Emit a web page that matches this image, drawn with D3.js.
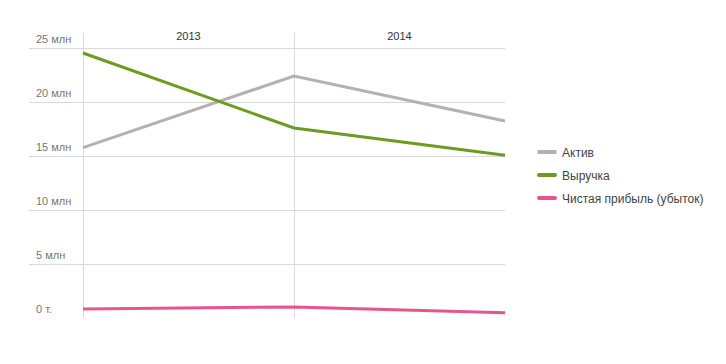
<!DOCTYPE html>
<html>
<head>
<meta charset="utf-8">
<script src="https://cdn.jsdelivr.net/npm/d3@7"></script>
<style>
  body { margin: 0; background: #fff; font-family: "Liberation Sans", Arial, sans-serif; }
  svg { display: block; }
</style>
</head>
<body>
<svg id="chart" width="726" height="364"></svg>
<script>
// Data
const periods = ["2013", "2014"];
const dates = [0, 1, 2]; // start of 2013, end of 2013, end of 2014
const seriesNames = ["Актив", "Выручка", "Чистая прибыль (убыток)"];
const aktiv = [15.77e6, 22.41e6, 18.24e6];
const vyruchka = [24.54e6, 17.59e6, 15.06e6];
const pribyl = [0.83e6, 1.02e6, 0.49e6];
const yTicks = [0, 5e6, 10e6, 15e6, 20e6, 25e6];
const colours = ["#b5b0b2", "#6b9b20", "#e8558c"];

const svg = d3.select("#chart");

const x = d3.scaleLinear().domain([0, 2]).range([83, 505]);
const y = d3.scaleLinear().domain([0, 25e6]).range([318, 48]);

function tickLabel(v) {
    return v === 0 ? "0 т." : (v / 1e6) + " млн";
}

// Horizontal grid lines (no line at zero)
svg.append("g")
    .selectAll("line")
    .data(yTicks.filter(d => d > 0))
    .enter()
    .append("line")
    .attr("x1", 29)
    .attr("x2", x(2))
    .attr("y1", d => Math.round(y(d)) + 0.5)
    .attr("y2", d => Math.round(y(d)) + 0.5)
    .attr("stroke", "#d9d9d9")
    .attr("stroke-width", 1);

// Vertical lines at period boundaries
svg.append("g")
    .selectAll("line")
    .data(dates.slice(0, 2))
    .enter()
    .append("line")
    .attr("x1", d => Math.round(x(d)) + 0.5)
    .attr("x2", d => Math.round(x(d)) + 0.5)
    .attr("y1", 33)
    .attr("y2", 318)
    .attr("stroke", "#d9d9d9")
    .attr("stroke-width", 1);

// Y tick labels
svg.append("g")
    .selectAll("text")
    .data(yTicks)
    .enter()
    .append("text")
    .attr("x", 36)
    .attr("y", d => y(d) - 5)
    .attr("font-size", "11px")
    .attr("fill", "#777")
    .text(tickLabel);

// Year labels between boundaries
svg.append("g")
    .selectAll("text")
    .data(periods)
    .enter()
    .append("text")
    .attr("x", (d, i) => (x(i) + x(i + 1)) / 2)
    .attr("y", 40)
    .attr("text-anchor", "middle")
    .attr("font-size", "11px")
    .attr("fill", "#333")
    .text(d => d);

// Lines
const line = d3.line()
    .x((d, i) => x(dates[i]))
    .y(d => y(d));

const allSeries = [aktiv, vyruchka, pribyl];

svg.append("g")
    .selectAll("path")
    .data(allSeries)
    .enter()
    .append("path")
    .attr("d", line)
    .attr("fill", "none")
    .attr("stroke", (d, i) => colours[i])
    .attr("stroke-width", 3);

// Legend
const legend = svg.append("g")
    .selectAll("g")
    .data(seriesNames)
    .enter()
    .append("g")
    .attr("transform", (d, i) => `translate(539, ${152 + i * 23})`);

legend.append("line")
    .attr("x1", 0)
    .attr("x2", 16)
    .attr("stroke", (d, i) => colours[i])
    .attr("stroke-width", 4)
    .attr("stroke-linecap", "round");

legend.append("text")
    .attr("x", 23)
    .attr("y", 4.5)
    .attr("font-size", "12px")
    .attr("fill", "#444")
    .text(d => d);
</script>
</body>
</html>
